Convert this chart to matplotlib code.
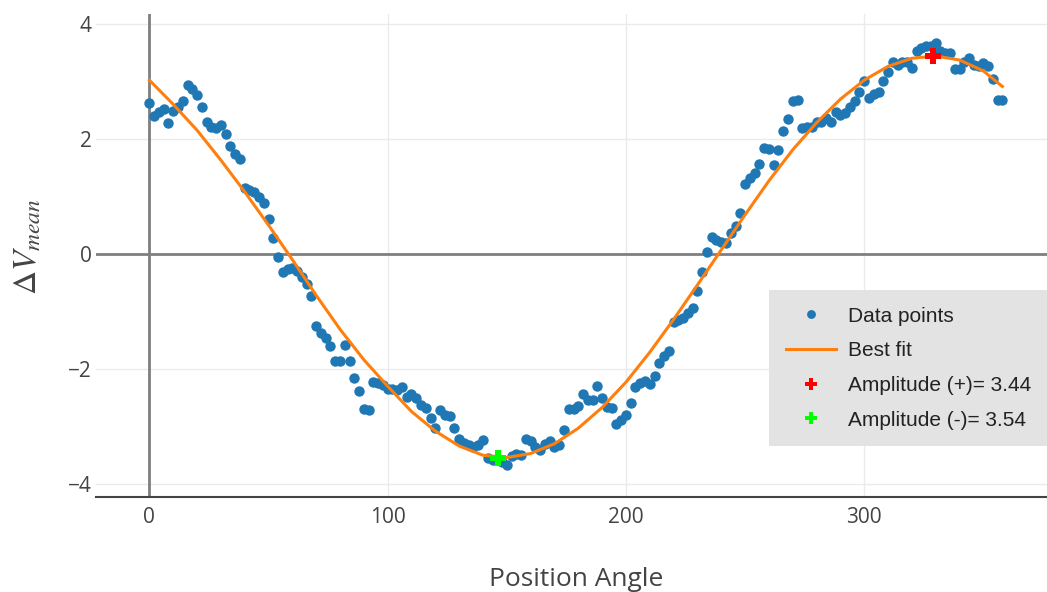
import numpy as np
import matplotlib
matplotlib.use("Agg")
import matplotlib.pyplot as plt

# position angle of each data point (every 2 degrees)
angles = np.arange(0, 360, 2)
dv_mean = [
    2.63, 2.39, 2.47, 2.52, 2.27, 2.49, 2.55, 2.65, 2.94, 2.86,
    2.77, 2.56, 2.30, 2.21, 2.19, 2.24, 2.09, 1.88, 1.74, 1.65,
    1.15, 1.11, 1.07, 0.99, 0.89, 0.60, 0.28, -0.05, -0.32, -0.27,
    -0.25, -0.30, -0.40, -0.52, -0.74, -1.26, -1.37, -1.47, -1.60, -1.87,
    -1.86, -1.58, -1.86, -2.15, -2.38, -2.70, -2.71, -2.22, -2.25, -2.28,
    -2.34, -2.34, -2.37, -2.31, -2.48, -2.43, -2.51, -2.63, -2.68, -2.86,
    -3.03, -2.71, -2.80, -2.82, -3.03, -3.21, -3.29, -3.32, -3.35, -3.32,
    -3.23, -3.54, -3.58, -3.56, -3.61, -3.67, -3.51, -3.48, -3.50, -3.22,
    -3.26, -3.35, -3.41, -3.30, -3.26, -3.35, -3.32, -3.07, -2.70, -2.70,
    -2.64, -2.43, -2.54, -2.54, -2.30, -2.51, -2.66, -2.68, -2.96, -2.89,
    -2.80, -2.60, -2.32, -2.24, -2.21, -2.26, -2.12, -1.90, -1.77, -1.68,
    -1.18, -1.15, -1.12, -1.03, -0.94, -0.64, -0.32, 0.04, 0.30, 0.24,
    0.21, 0.19, 0.36, 0.48, 0.71, 1.22, 1.32, 1.41, 1.57, 1.84,
    1.82, 1.55, 1.81, 2.13, 2.34, 2.65, 2.68, 2.19, 2.21, 2.21,
    2.30, 2.30, 2.36, 2.30, 2.47, 2.42, 2.45, 2.56, 2.65, 2.82,
    3.00, 2.71, 2.78, 2.81, 3.01, 3.17, 3.34, 3.29, 3.33, 3.34,
    3.23, 3.52, 3.58, 3.61, 3.62, 3.66, 3.52, 3.49, 3.49, 3.21,
    3.21, 3.34, 3.40, 3.29, 3.26, 3.32, 3.27, 3.04, 2.68, 2.68,
]

# best fit curve
fit_angles = [0, 10, 20, 30, 40, 50, 60, 70, 80, 90, 100, 110, 120, 130, 140,
              150, 160, 170, 180, 190, 200, 210, 220, 230, 240, 250, 260, 270,
              280, 290, 300, 310, 320, 330, 340, 350, 358]
fit_values = [3.02, 2.60, 2.15, 1.63, 1.08, 0.50, -0.10, -0.72, -1.31, -1.84,
              -2.30, -2.74, -3.08, -3.34, -3.50, -3.54, -3.47, -3.30, -3.03,
              -2.67, -2.23, -1.71, -1.14, -0.54, 0.07, 0.68, 1.27, 1.81, 2.28,
              2.69, 3.02, 3.26, 3.40, 3.44, 3.37, 3.18, 2.91]

# amplitude markers
amp_pos = (329, 3.44)
amp_neg = (146.5, -3.54)

plt.rcParams["mathtext.fontset"] = "stix"

fig = plt.figure(figsize=(10.47, 5.92), dpi=100)
ax = fig.add_axes([96 / 1047, 1 - 497 / 592, 1 - 96 / 1047, (497 - 14) / 592])

ax.set_xlim(-22.4, 376.7)
ax.set_ylim(-4.226, 4.17)

# grid + zero lines like plotly
for gx in [100, 200, 300]:
    ax.axvline(gx, color="#ebebeb", lw=1, zorder=0)
for gy in [-4, -2, 2, 4]:
    ax.axhline(gy, color="#ebebeb", lw=1, zorder=0)
ax.axvline(0, color="#7f7f7f", lw=2, zorder=1)
ax.axhline(0, color="#7f7f7f", lw=2, zorder=1)

ax.plot(angles, dv_mean, "o", color="#1f77b4", ms=7.5, mew=0, zorder=3,
        label="Data points")
ax.plot(fit_angles, fit_values, color="#ff7f0e", lw=2.2, zorder=4,
        label="Best fit")
ax.plot(*amp_pos, "P", color="#ff0000", ms=11, mew=0, zorder=5,
        label="Amplitude (+)= 3.44")
ax.plot(*amp_neg, "P", color="#00ff00", ms=11, mew=0, zorder=5,
        label="Amplitude (-)= 3.54")

for side in ["top", "right", "left"]:
    ax.spines[side].set_visible(False)
ax.spines["bottom"].set_color("#444444")
ax.spines["bottom"].set_linewidth(1.5)

ax.set_xticks([0, 100, 200, 300])
ax.set_yticks([-4, -2, 0, 2, 4])
ax.set_yticklabels(["\u22124", "\u22122", "0", "2", "4"])
ax.tick_params(length=0, labelsize=15, colors="#444444")
ax.tick_params(axis="x", pad=7)
ax.tick_params(axis="y", pad=3)
for lab in ax.get_xticklabels() + ax.get_yticklabels():
    lab.set_fontfamily("Open Sans")

fig.text(576 / 1047, 1 - 579 / 592, "Position Angle", ha="center", va="center",
         fontsize=19, color="#444444", family="Open Sans")
fig.text(27 / 1047, 1 - 247 / 592, r"$\Delta V_{mean}$", ha="center",
         va="center", rotation=90, fontsize=24, color="#444444")

leg = ax.legend(loc="upper left", bbox_to_anchor=(769 / 1047, 1 - 290 / 592),
                bbox_transform=fig.transFigure, borderaxespad=0,
                prop={"family": "Liberation Sans", "size": 15},
                frameon=True, fancybox=False, framealpha=1,
                facecolor="#e3e3e3", edgecolor="none",
                handlelength=2.4, handletextpad=0.6, labelspacing=0.75,
                borderpad=0.8, numpoints=1, markerscale=0.85)
for t in leg.get_texts():
    t.set_color("#222222")

fig.savefig("out.png", dpi=100)
